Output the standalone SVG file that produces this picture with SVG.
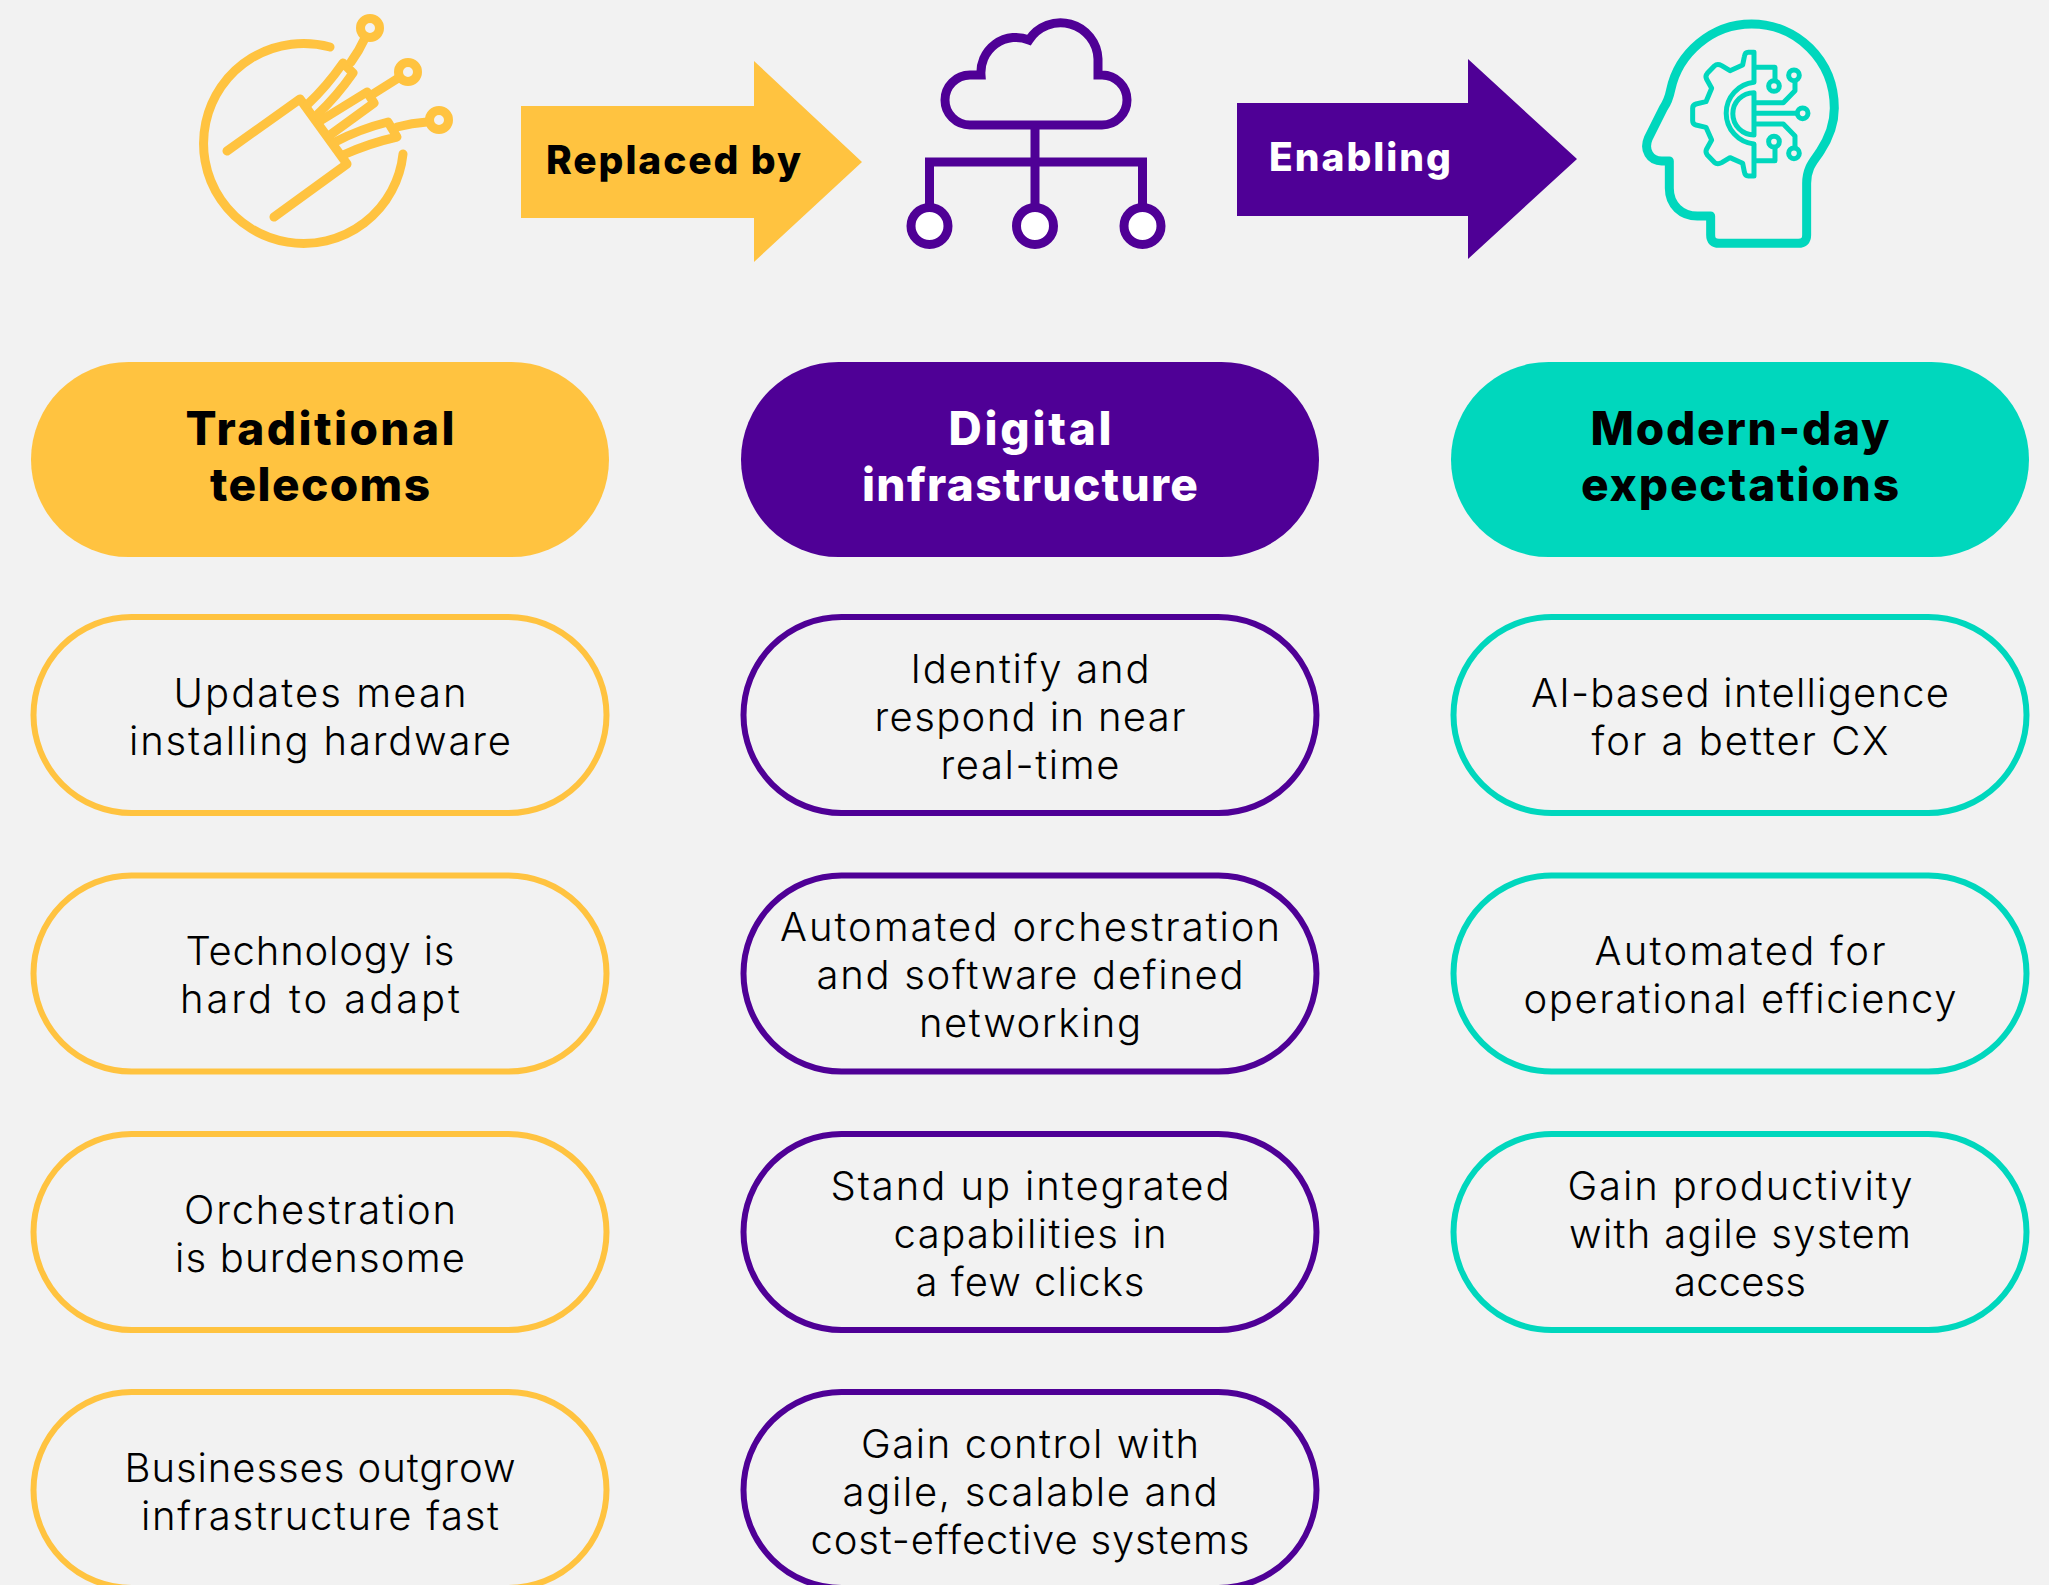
<svg xmlns="http://www.w3.org/2000/svg" width="2049" height="1585" viewBox="0 0 2049 1585">
<style>
.y{stroke:#FFC340}.p{stroke:#4F0096}.t{stroke:#00D7BD}
.pill{fill:#F2F2F2;stroke-width:6}
.line{fill:none;stroke-linecap:round;stroke-linejoin:round}
text{font-family:"Inter","Liberation Sans",sans-serif;text-anchor:middle;fill:#000;font-variant-ligatures:none}
.b{font-size:40px;font-weight:300}
.h{font-size:46px;font-weight:800}
.a{font-size:39px;font-weight:800;text-anchor:start}
</style>
<rect width="2049" height="1585" fill="#F2F2F2"/>
<g id="icon-fibre" class="line y" stroke-width="9">
<path d="M330 47A100 100 0 1 0 403 154"/>
<path d="M227 151L300 99L347 164L274 217"/>
<path d="M308 104Q327 86 343 63L353 73Q337 96 317 115"/>
<path d="M351 62Q359 51 365 38"/><circle cx="370" cy="28" r="9.500" fill="#F2F2F2"/>
<path d="M320 121L367 92L374 103L330 135"/>
<path d="M373 94L400 77"/><circle cx="408" cy="72" r="9.500" fill="#F2F2F2"/>
<path d="M335 142Q360 129 388 122L397 137Q370 143 343 155"/>
<path d="M397 127Q412 123 427 122"/><circle cx="439" cy="120" r="9.500" fill="#F2F2F2"/>
</g>
<g id="arrow-replaced">
<polygon points="521,106 754,106 754,61 862,162 754,262 754,218 521,218" fill="#FFC340"/>
<text class="a" x="546" y="174" textLength="255">Replaced by</text>
</g>
<g id="icon-cloud" class="p" fill="none" stroke-width="9">
<path d="M970 125H1102A25 25 0 0 0 1102 75H1098V59A37.500 37.500 0 0 0 1029 40A35 35 0 0 0 981 75H970A25 25 0 0 0 970 125Z"/>
<path d="M1035 125V205M929.500 205V162H1142.500V205"/>
<circle cx="929.500" cy="226" r="18.500" fill="#fff"/>
<circle cx="1035" cy="226" r="18.500" fill="#fff"/>
<circle cx="1142.500" cy="226" r="18.500" fill="#fff"/>
</g>
<g id="arrow-enabling">
<polygon points="1237,103 1468,103 1468,59 1577,159 1468,259 1468,216 1237,216" fill="#4F0096"/>
<text class="a" x="1269" y="171" textLength="182" style="fill:#fff">Enabling</text>
</g>
<g id="icon-head" class="t" fill="none" transform="translate(1620 0) scale(.3333)">
<path stroke-width="27" stroke-linejoin="round" d="M148 483V565C148 615 185 648 232 648H272V705Q272 730 297 730H535Q560 730 560 705V550C560 500 585 480 600 455C630 410 643 370 643 325C643 180 530 72 395 72C275 72 175 160 152 270C148 290 140 310 130 325L85 415C70 450 90 483 125 483Z"/>
<g stroke-width="15" stroke-linejoin="round">
<path d="M402 247V157H385Q375 157 373 170L368 195L330 212L305 197Q292 190 283 198L262 220Q255 228 260 238L275 265L258 305L228 312Q218 315 218 325V362Q218 372 228 375L258 382L275 420L260 447Q255 457 262 465L283 487Q292 495 305 488L330 473L368 490L373 515Q375 528 385 528H402V432A93 93 0 0 1 402 247Z"/>
<path d="M402 278V405A63 63 0 0 1 402 278Z"/>
<path d="M402 202H465V240M402 308H490L525 272V243M402 340H530M402 372H490L525 408V442M402 482H465V442"/>
<circle cx="462" cy="258" r="16"/><circle cx="522" cy="226" r="16"/><circle cx="548" cy="340" r="16"/><circle cx="522" cy="460" r="16"/><circle cx="462" cy="425" r="16"/>
</g>
</g>
<g id="head-traditional"><rect x="31" y="362" width="578" height="195" rx="97.500" fill="#FFC340"/>
<text class="h" x="320" y="445" textLength="269">Traditional</text><text class="h" x="320" y="501" textLength="220">telecoms</text></g>
<g id="head-digital"><rect x="741" y="362" width="578" height="195" rx="97.500" fill="#4F0096"/>
<text class="h" x="1030" y="445" textLength="163" style="fill:#fff">Digital</text><text class="h" x="1030" y="501" textLength="336" style="fill:#fff">infrastructure</text></g>
<g id="head-modern"><rect x="1451" y="362" width="578" height="195" rx="97.500" fill="#00D7BD"/>
<text class="h" x="1740" y="445" textLength="299">Modern-day</text><text class="h" x="1740" y="501" textLength="318">expectations</text></g>

<g id="t1"><rect class="pill y" x="33.500" y="617" width="573" height="196" rx="98"/><text class="b" x="320" y="707" textLength="293">Updates mean</text><text class="b" x="320" y="755" textLength="382">installing hardware</text></g>
<g id="t2"><rect class="pill y" x="33.500" y="875.500" width="573" height="196" rx="98"/><text class="b" x="320" y="965" textLength="269">Technology is</text><text class="b" x="320" y="1013" textLength="280">hard to adapt</text></g>
<g id="t3"><rect class="pill y" x="33.500" y="1134" width="573" height="196" rx="98"/><text class="b" x="320" y="1224" textLength="272">Orchestration</text><text class="b" x="320" y="1272" textLength="290">is burdensome</text></g>
<g id="t4"><rect class="pill y" x="33.500" y="1392" width="573" height="196" rx="98"/><text class="b" x="320" y="1482" textLength="391">Businesses outgrow</text><text class="b" x="320" y="1530" textLength="358">infrastructure fast</text></g>

<g id="d1"><rect class="pill p" x="743.500" y="617" width="573" height="196" rx="98"/><text class="b" x="1030" y="683" textLength="239">Identify and</text><text class="b" x="1030" y="731" textLength="311">respond in near</text><text class="b" x="1030" y="779" textLength="179">real-time</text></g>
<g id="d2"><rect class="pill p" x="743.500" y="875.500" width="573" height="196" rx="98"/><text class="b" x="1030" y="941" textLength="500">Automated orchestration</text><text class="b" x="1030" y="989" textLength="427">and software defined</text><text class="b" x="1030" y="1037" textLength="222">networking</text></g>
<g id="d3"><rect class="pill p" x="743.500" y="1134" width="573" height="196" rx="98"/><text class="b" x="1030" y="1200" textLength="399">Stand up integrated</text><text class="b" x="1030" y="1248" textLength="273">capabilities in</text><text class="b" x="1030" y="1296" textLength="229">a few clicks</text></g>
<g id="d4"><rect class="pill p" x="743.500" y="1392" width="573" height="196" rx="98"/><text class="b" x="1030" y="1458" textLength="338">Gain control with</text><text class="b" x="1030" y="1506" textLength="375">agile, scalable and</text><text class="b" x="1030" y="1554" textLength="439">cost-effective systems</text></g>

<g id="m1"><rect class="pill t" x="1453.500" y="617" width="573" height="196" rx="98"/><text class="b" x="1740" y="707" textLength="418">AI-based intelligence</text><text class="b" x="1740" y="755" textLength="297">for a better CX</text></g>
<g id="m2"><rect class="pill t" x="1453.500" y="875.500" width="573" height="196" rx="98"/><text class="b" x="1740" y="965" textLength="291">Automated for</text><text class="b" x="1740" y="1013" textLength="433">operational efficiency</text></g>
<g id="m3"><rect class="pill t" x="1453.500" y="1134" width="573" height="196" rx="98"/><text class="b" x="1740" y="1200" textLength="345">Gain productivity</text><text class="b" x="1740" y="1248" textLength="342">with agile system</text><text class="b" x="1740" y="1296" textLength="132">access</text></g>
</svg>
